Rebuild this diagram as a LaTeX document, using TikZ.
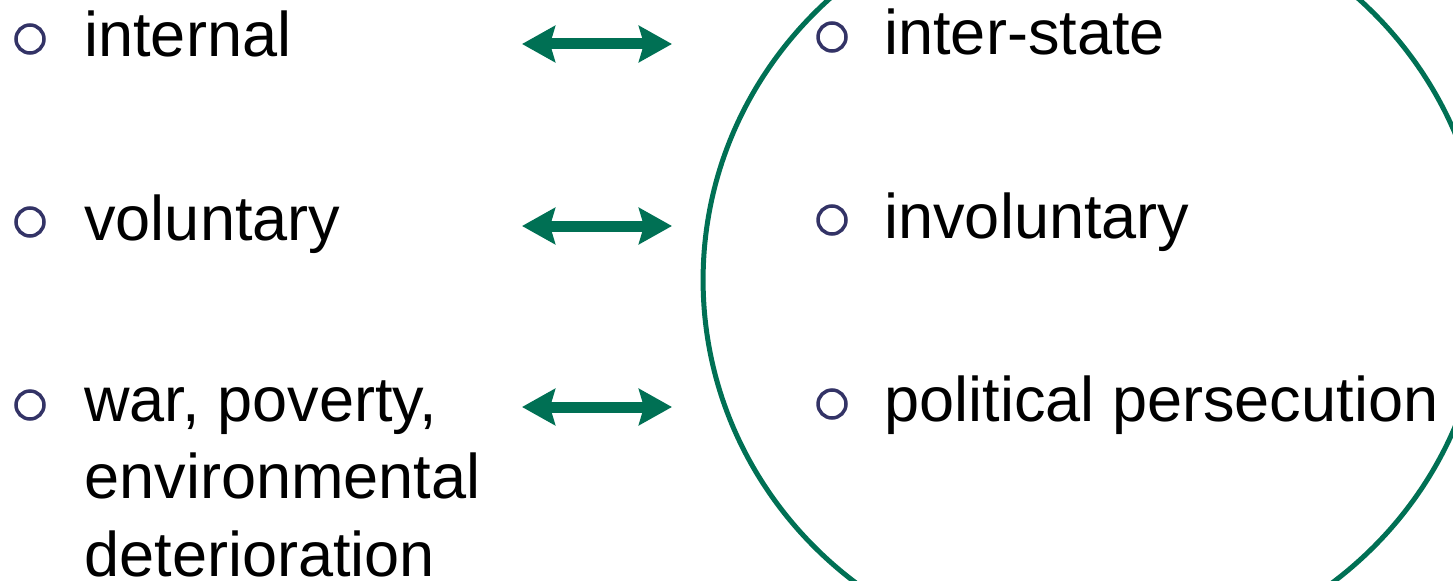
\documentclass[tikz,border=0pt]{standalone}
\usepackage{fontspec}
\setmainfont{Liberation Sans}
\usetikzlibrary{arrows.meta, positioning}
\definecolor{ringgreen}{RGB}{0,112,84}
\definecolor{bulletblue}{RGB}{51,51,102}

\begin{document}
\begin{tikzpicture}[x=0.02cm,y=-0.02cm,
   item/.style={anchor=base west,inner sep=0pt,align=left,
                font=\fontsize{35.9pt}{44pt}\selectfont},
   bullet/.style={circle,draw=bulletblue,line width=0.07cm,
                  minimum size=0.56cm,inner sep=0pt},
   pair/.style={ringgreen,line width=0.22cm,
                {Stealth[length=0.66cm,width=0.72cm,inset=0.1cm]}-{Stealth[length=0.66cm,width=0.72cm,inset=0.1cm]}}]

   \useasboundingbox (0,0) rectangle (1453,581);

   % ring round the right column
   \draw[ringgreen,line width=0.1cm] (1094,280) ellipse [x radius=7.82cm, y radius=7.64cm];

   % left column
   \node[item] (internal)  at (84,57)  {internal};
   \node[item] (voluntary) at (84,240) {voluntary};
   % base of a multi-line node = its last line
   \node[item] (war)       at (84,576) {war, poverty,\\environmental\\deterioration};

   \node[bullet] (b_internal)  at (30,39)  {};
   \node[bullet] (b_voluntary) at (30,222) {};
   \node[bullet] (b_war)       at (30,405) {};

   % right column
   \node[item] (interstate)  at (884,55)  {inter-state};
   \node[item] (involuntary) at (884,238) {involuntary};
   \node[item] (political)   at (884,421) {political persecution};

   \node[bullet] (b_interstate)  at (832,37)  {};
   \node[bullet] (b_involuntary) at (832,220) {};
   \node[bullet] (b_political)   at (832,404) {};

   % arrows between the columns
   \coordinate (a1_l) at (522,44);  \coordinate (a1_r) at (672,44);
   \coordinate (a2_l) at (522,226); \coordinate (a2_r) at (672,226);
   \coordinate (a3_l) at (522,407); \coordinate (a3_r) at (672,407);

   \draw[pair] (a1_l) -- (a1_r);
   \draw[pair] (a2_l) -- (a2_r);
   \draw[pair] (a3_l) -- (a3_r);

\end{tikzpicture}
\end{document}
